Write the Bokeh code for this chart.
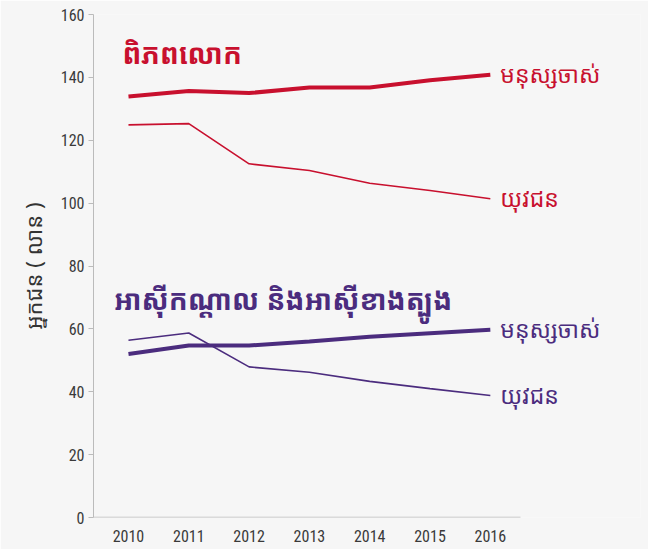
from bokeh.plotting import figure
from bokeh.models import Range1d, FixedTicker, Label, ColumnDataSource
from bokeh.embed import file_html
from bokeh.resources import INLINE

years = [2010, 2011, 2012, 2013, 2014, 2015, 2016]
world_old = [133.9, 135.7, 135.0, 136.8, 136.8, 139.1, 140.8]
world_youth = [124.9, 125.3, 112.5, 110.4, 106.3, 104.0, 101.4]
asia_old = [52.0, 54.7, 54.7, 56.0, 57.5, 58.6, 59.7]
asia_youth = [56.4, 58.7, 47.9, 46.2, 43.3, 41.0, 38.8]

y_ticks = [0, 20, 40, 60, 80, 100, 120, 140, 160]
label_old = "មនុស្សចាស់"
label_youth = "យុវជន"
title_world = "ពិភពលោក"
title_asia = "អាស៊ីកណ្ដាល និងអាស៊ីខាងត្បូង"
y_label = "អ្នកជន ( លាន )"

RED = "#c8102e"
PURPLE = "#4b2c7e"
BG = "#f6f6f6"
AXIS = "#bbbbbb"
KH = "Noto Sans Khmer, Khmer OS, Noto Sans, sans-serif"
NUM = "Liberation Sans Narrow, Roboto Condensed, Liberation Sans"

X0, X1 = 2009.42, 2018.49

p = figure(width=648, height=549, output_backend="svg", toolbar_location=None,
           x_range=Range1d(X0, X1), y_range=Range1d(0, 160),
           min_border_left=93, min_border_right=8, min_border_top=14, min_border_bottom=32,
           background_fill_color=BG, border_fill_color=BG)
p.outline_line_color = None
p.grid.visible = False

p.yaxis.ticker = FixedTicker(ticks=y_ticks)
p.xaxis.ticker = FixedTicker(ticks=years)
for ax in (p.xaxis[0], p.yaxis[0]):
    ax.axis_line_color = AXIS
    ax.major_tick_line_color = AXIS
    ax.minor_tick_line_color = None
    ax.major_label_text_font = NUM
    ax.major_label_text_font_size = "16px"
    ax.major_label_text_color = "#3a3a3a"
p.xaxis.axis_line_color = None
p.yaxis.major_tick_out = 5
p.yaxis.major_tick_in = 0
p.yaxis.major_label_standoff = 4
p.xaxis.major_tick_out = 0
p.xaxis.major_tick_in = 0
p.xaxis.major_label_standoff = 12
p.yaxis.axis_label = y_label
p.yaxis.axis_label_text_font = KH
p.yaxis.axis_label_text_font_style = "normal"
p.yaxis.axis_label_text_font_size = "22px"
p.yaxis.axis_label_text_color = "#333333"
p.yaxis.axis_label_standoff = 10

# x-axis baseline spanning only the year area
p.segment(x0=[X0], y0=[0], x1=[2016.5], y1=[0], line_color=AXIS, line_width=1.5)

src = ColumnDataSource(dict(x=years, wo=world_old, wy=world_youth, ao=asia_old, ay=asia_youth))
p.line("x", "wy", source=src, color=RED, line_width=1.6)
p.line("x", "wo", source=src, color=RED, line_width=4)
p.line("x", "ay", source=src, color=PURPLE, line_width=1.6)
p.line("x", "ao", source=src, color=PURPLE, line_width=4)

for yv, txt, col in [(world_old[-1], label_old, RED), (world_youth[-1], label_youth, RED),
                     (asia_old[-1], label_old, PURPLE), (asia_youth[-1], label_youth, PURPLE)]:
    p.add_layout(Label(x=years[-1], y=yv, text=txt, x_offset=10, y_offset=1,
                       text_baseline="middle", text_align="left", text_color=col,
                       text_font=KH, text_font_size="23px"))

p.add_layout(Label(x=2009.90, y=147.6, text=title_world, text_baseline="middle",
                   text_color=RED, text_font=KH, text_font_size="28px", text_font_style="bold"))
p.add_layout(Label(x=2009.76, y=69.5, text=title_asia, text_baseline="middle",
                   text_color=PURPLE, text_font=KH, text_font_size="28px", text_font_style="bold"))

open("out.html", "w").write(file_html(p, INLINE))
